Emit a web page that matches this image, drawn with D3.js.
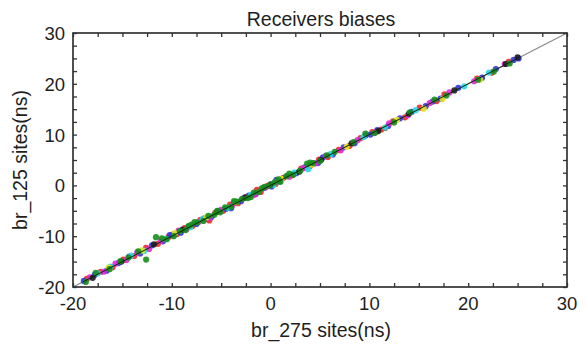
<!DOCTYPE html>
<html><head><meta charset="utf-8">
<script src="https://cdn.jsdelivr.net/npm/d3@7"></script>
<style>body{margin:0;background:#fff}svg{display:block}text{font-family:"Liberation Sans",Arial,sans-serif;fill:#1e1e1e}</style>
</head><body><svg id="c" width="585" height="345"></svg>
<script>
const title = "Receivers biases";
const xTitle = "br_275 sites(ns)";
const yTitle = "br_125 sites(ns)";
const xTicks = [-20,-10,0,10,20,30];
const yTicks = [-20,-10,0,10,20,30];
const domain = [-20,30];
const seriesNames = ["red","blue","magenta","cyan","yellow","black","green"];
const seriesColors = ["#f02828","#3434dc","#e028d8","#28d8e0","#e4e020","#1e1e1e","#14901a"];
const red = [[-18.6,-18.4],[-17.2,-17.0],[-16.0,-16.1],[-14.9,-14.6],[-13.8,-13.9],[-12.6,-12.3],[-11.4,-11.5],[-10.3,-10.1],[-9.5,-9.6],[-8.7,-8.4],[-7.9,-8.0],[-7.1,-6.8],[-6.4,-6.6],[-5.6,-5.4],[-4.8,-5.0],[-4.1,-3.8],[-3.3,-3.5],[-2.5,-2.3],[-1.8,-1.9],[-1.0,-1.3],[-0.3,-0.1],[0.5,0.3],[1.3,1.5],[2.2,2.0],[3.1,3.3],[4.0,3.8],[4.9,5.1],[5.8,5.6],[6.9,7.0],[8.0,7.8],[9.1,9.3],[10.3,10.5],[11.2,11.0],[12.4,12.6],[13.6,13.4],[15.1,15.3],[16.8,16.6],[17.6,17.9],[20.9,21.0],[22.4,22.2],[24.1,24.3],[-6.2,-6.9],[-1.4,-0.9],[11.6,11.3]];
const blue = [[-18.9,-18.8],[-17.8,-17.6],[-16.6,-16.8],[-15.4,-15.3],[-14.3,-14.0],[-13.2,-13.4],[-12.0,-11.8],[-10.9,-11.0],[-9.9,-9.7],[-9.1,-9.3],[-8.3,-8.1],[-7.5,-7.6],[-6.7,-6.5],[-6.0,-6.2],[-5.2,-5.0],[-4.5,-4.6],[-3.7,-3.5],[-3.0,-3.1],[-2.2,-2.0],[-1.5,-1.7],[-0.7,-0.5],[0.1,-0.2],[0.9,0.8],[1.7,1.9],[2.6,2.4],[3.5,3.6],[4.4,4.3],[5.3,5.5],[6.3,6.1],[7.4,7.5],[8.5,8.3],[9.6,9.8],[10.1,10.0],[10.8,10.9],[11.9,11.7],[13.1,13.2],[14.3,14.5],[15.7,15.6],[16.4,16.5],[17.2,17.1],[19.0,19.2],[21.4,21.2],[22.8,22.9],[24.6,24.7],[25.1,25.0],[-10.2,-9.8],[-4.0,-4.5],[0.6,1.1],[4.8,4.4]];
const magenta = [[-18.3,-18.1],[-16.9,-17.0],[-15.7,-15.4],[-14.6,-14.7],[-13.5,-13.2],[-12.3,-12.5],[-11.1,-10.9],[-9.3,-8.9],[-8.5,-8.6],[-7.3,-7.2],[-6.2,-6.4],[-5.0,-4.8],[-3.9,-4.0],[-2.8,-2.6],[-1.6,-1.8],[-0.5,-0.4],[0.7,0.9],[1.9,1.7],[3.3,3.4],[4.6,4.4],[5.6,5.8],[7.1,6.9],[8.8,8.9],[10.6,10.4],[12.0,12.2],[13.9,13.8],[16.1,16.2],[18.1,18.3],[20.6,20.5],[23.7,23.9]];
const cyan = [[-17.5,-17.3],[-16.2,-16.0],[-14.1,-13.8],[-12.8,-12.9],[-10.6,-10.5],[-8.1,-8.2],[-6.9,-6.7],[-4.3,-4.4],[-2.0,-1.9],[0.3,0.1],[2.4,2.5],[3.8,3.2],[6.1,6.2],[9.4,9.5],[11.6,11.4],[14.7,14.8],[19.6,19.5],[22.1,22.2]];
const yellow = [[-16.4,-16.2],[-13.0,-12.8],[-9.7,-9.4],[-6.5,-6.3],[-3.5,-3.3],[1.1,1.3],[4.2,4.1],[7.7,7.6],[12.8,12.9],[15.5,15.1],[17.4,17.0],[21.2,20.8]];
const black = [[-18.0,-18.2],[-15.1,-15.0],[-11.8,-11.6],[-8.9,-8.7],[-5.4,-5.2],[-2.6,-2.4],[0.0,0.2],[2.9,2.7],[5.1,5.0],[8.2,8.3],[10.9,10.7],[14.0,14.1],[18.6,18.7],[23.8,23.9],[25.0,25.2]];
const green = [[-18.7,-19.0],[-17.7,-17.2],[-16.3,-16.5],[-15.2,-14.9],[-14.4,-14.2],[-12.6,-14.6],[-11.6,-10.2],[-11.0,-10.4],[-10.5,-10.6],[-9.8,-10.0],[-9.2,-9.0],[-8.6,-8.8],[-8.0,-7.7],[-7.4,-7.3],[-6.8,-7.0],[-6.3,-6.0],[-5.7,-5.8],[-5.1,-5.3],[-4.6,-4.3],[-4.0,-4.2],[-3.4,-3.2],[-2.9,-2.7],[-2.3,-2.5],[-1.7,-1.4],[-1.2,-1.3],[-0.6,-0.3],[-0.1,0.0],[0.4,0.6],[1.0,0.7],[1.6,1.8],[2.3,2.1],[3.0,2.9],[3.7,4.3],[4.3,4.4],[5.0,4.8],[5.7,5.9],[6.5,6.6],[8.4,8.5],[9.6,10.2],[10.5,10.3],[12.5,12.4],[14.1,14.4],[16.6,16.9],[17.8,17.7],[21.0,20.8],[22.6,22.4],[24.2,24.0],[-7.7,-7.2],[-5.4,-5.0],[-3.7,-3.1],[-2.0,-2.3],[-0.9,-0.6],[0.8,1.2],[1.9,2.3],[4.0,4.5],[-13.4,-13.0],[-8.3,-8.0]];
const fitLine = [[-19,-19],[25,25]];
const refLine = [[-20,-20],[30,30]];

const svg = d3.select("#c");
const L=73,R=567,T=33,B=287;
const x = d3.scaleLinear().domain(domain).range([L,R]);
const y = d3.scaleLinear().domain(domain).range([B,T]);
const minor = d3.range(-20,30.01,2.5);

const line = d3.line().x(d=>x(d[0])).y(d=>y(d[1]));
svg.append("path").attr("d",line(refLine)).attr("stroke","#888").attr("stroke-width",1.2).attr("fill","none");

const all = [red,blue,magenta,cyan,yellow,black,green];
all.forEach((s,i)=>{
  svg.append("g").selectAll("circle").data(s).join("circle")
    .attr("cx",d=>x(d[0])).attr("cy",d=>y(d[1])).attr("r",3.1)
    .attr("fill",seriesColors[i]).attr("opacity",0.9);
});
svg.append("path").attr("d",line(fitLine)).attr("stroke","#0a2a0a").attr("stroke-width",1).attr("fill","none");

const tl=4;
svg.append("g").attr("transform",`translate(0,${B})`).call(d3.axisBottom(x).tickValues(minor).tickSize(-tl).tickFormat("")).call(g=>g.select(".domain").remove());
svg.append("g").attr("transform",`translate(0,${T})`).call(d3.axisTop(x).tickValues(minor).tickSize(-tl).tickFormat("")).call(g=>g.select(".domain").remove());
svg.append("g").attr("transform",`translate(${L},0)`).call(d3.axisLeft(y).tickValues(minor).tickSize(-tl).tickFormat("")).call(g=>g.select(".domain").remove());
svg.append("g").attr("transform",`translate(${R},0)`).call(d3.axisRight(y).tickValues(minor).tickSize(-tl).tickFormat("")).call(g=>g.select(".domain").remove());
svg.selectAll(".tick line").attr("stroke","#333").attr("stroke-width",1.3);
svg.append("rect").attr("x",L).attr("y",T).attr("width",R-L).attr("height",B-T).attr("fill","none").attr("stroke","#333").attr("stroke-width",1.7);

svg.append("g").selectAll("text").data(xTicks).join("text")
  .attr("x",d=>x(d)).attr("y",B+23).attr("text-anchor","middle").attr("font-size",18.5).text(d=>d);
svg.append("g").selectAll("text").data(yTicks).join("text")
  .attr("x",L-8).attr("y",d=>y(d)+7).attr("text-anchor","end").attr("font-size",18.5).text(d=>d);

svg.append("text").attr("x",321).attr("y",26).attr("text-anchor","middle").attr("font-size",19.5).text(title);
svg.append("text").attr("x",321).attr("y",337).attr("text-anchor","middle").attr("font-size",19.5).text(xTitle);
svg.append("text").attr("transform",`translate(27,160) rotate(-90)`).attr("text-anchor","middle").attr("font-size",19.5).text(yTitle);
</script></body></html>
